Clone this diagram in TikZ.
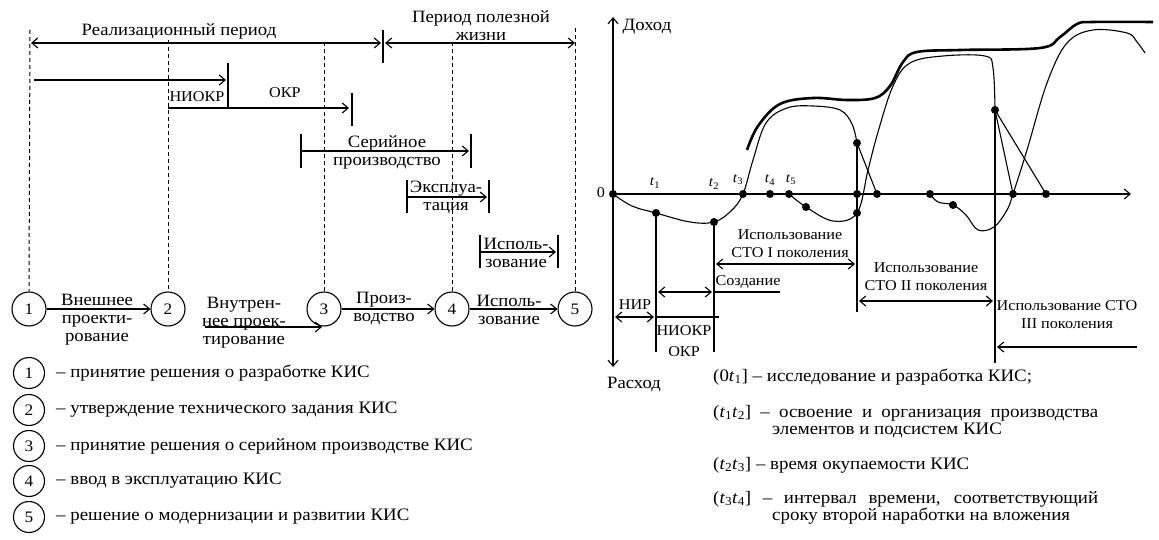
\documentclass[tikz,border=0pt]{standalone}
\usepackage{fontspec}
\setmainfont{Liberation Serif}[FakeStretch=1.08]
\usetikzlibrary{arrows.meta}
\begin{document}
\begin{tikzpicture}[x=1pt,y=-1pt,
  >={Straight Barb[length=6pt,width=10pt]},
  ln/.style={line width=1.1pt},
  arr/.style={ln,->}, darr/.style={ln,<->},
  dsh/.style={line width=1pt,dash pattern=on 4pt off 3pt},
  big/.style={font=\fontsize{17.3}{18}\selectfont, inner sep=0pt, align=center},
  sml/.style={font=\fontsize{15}{18}\selectfont, inner sep=0pt, align=center},
  leg/.style={font=\fontsize{17.5}{18}\selectfont, inner sep=0pt, anchor=west},
  tl/.style={font=\fontsize{14}{14}\selectfont, inner sep=0pt},
  num/.style={circle, draw, line width=1.1pt, minimum size=34pt, inner sep=0pt, font=\fontsize{16}{16}\selectfont},
  lnum/.style={circle, draw, line width=1.1pt, minimum size=31pt, inner sep=0pt, font=\fontsize{16}{16}\selectfont},
  dot/.style={circle, fill, inner sep=0pt, minimum size=8pt},
  crv/.style={line width=1.1pt},
  env/.style={line width=2.6pt}
]
\useasboundingbox (0,0) rectangle (1159,540);

% ---------------- LEFT PART ----------------
\node[num] (c1) at (29,309) {1};
\node[num] (c2) at (168,309) {2};
\node[num] (c3) at (324,309) {3};
\node[num] (c4) at (452,309) {4};
\node[num] (c5) at (575,309) {5};

% dashed verticals
\coordinate (v1) at (30,30);
\coordinate (v2) at (168,40);
\coordinate (v3) at (324,42);
\coordinate (v4) at (452,42);
\coordinate (v5) at (575,28);
\draw[dsh] (v1) -- (c1.north);
\draw[dsh] (v2) -- (c2.north);
\draw[dsh] (v3) -- (c3.north);
\draw[dsh] (v4) -- (c4.north);
\draw[dsh] (v5) -- (c5.north);

% top periods
\node[big] (tRP) at (179,31) {Реализационный период};
\node[big] (tPP) at (481,26) {Период полезной\\жизни};
\coordinate (rpL) at (31,43); \coordinate (rpR) at (381,43);
\draw[darr] (rpL) -- (rpR);
\coordinate (tk0a) at (383,30); \coordinate (tk0b) at (383,63);
\draw[ln] (tk0a) -- (tk0b);
\coordinate (ppL) at (385,43); \coordinate (ppR) at (575,43);
\draw[darr] (ppL) -- (ppR);

% NIOKR
\coordinate (n1a) at (34,80); \coordinate (n1b) at (226,80);
\draw[arr] (n1a) -- (n1b);
\coordinate (tk1a) at (228,63); \coordinate (tk1b) at (228,108);
\draw[ln] (tk1a) -- (tk1b);
\node[sml] (tNI) at (197,97) {НИОКР};
% OKR
\coordinate (o1a) at (168,108); \coordinate (o1b) at (349,108);
\draw[arr] (o1a) -- (o1b);
\coordinate (tk2a) at (352,93); \coordinate (tk2b) at (352,126);
\draw[ln] (tk2a) -- (tk2b);
\node[sml] (tOK) at (285,93) {ОКР};

% Serial production
\coordinate (tk3a) at (301,134); \coordinate (tk3b) at (301,168);
\coordinate (tk4a) at (471,134); \coordinate (tk4b) at (471,168);
\draw[ln] (tk3a) -- (tk3b);
\draw[ln] (tk4a) -- (tk4b);
\coordinate (s1a) at (301,151); \coordinate (s1b) at (469,151);
\draw[arr] (s1a) -- (s1b);
\node[big] (tSP) at (387,152) {Серийное\\производство};

% Exploitation
\coordinate (tk5a) at (407,180); \coordinate (tk5b) at (407,213);
\coordinate (tk6a) at (489,180); \coordinate (tk6b) at (489,213);
\draw[ln] (tk5a) -- (tk5b);
\draw[ln] (tk6a) -- (tk6b);
\coordinate (e1a) at (407,197); \coordinate (e1b) at (487,197);
\draw[arr] (e1a) -- (e1b);
\node[big] (tEX) at (446,197) {Эксплуа-\\тация};

% Usage
\coordinate (tk7a) at (480,235); \coordinate (tk7b) at (480,268);
\coordinate (tk8a) at (558,235); \coordinate (tk8b) at (558,268);
\draw[ln] (tk7a) -- (tk7b);
\draw[ln] (tk8a) -- (tk8b);
\coordinate (u1a) at (480,252); \coordinate (u1b) at (556,252);
\draw[arr] (u1a) -- (u1b);
\node[big] (tUS) at (516,253) {Исполь-\\зование};

% circle row arrows
\draw[arr] (c1) -- (c2);
\draw[arr] (c3) -- (c4);
\draw[arr] (c4) -- (c5);
\coordinate (s23) at (205,327); \coordinate (e23) at (322,327);
\draw[arr] (s23) -- (e23);
\node[big] (tVP) at (97,320) {Внешнее\\проекти-\\рование};
\node[big] (tVN) at (244,323) {Внутрен-\\нее проек-\\тирование};
\node[big] (tPR) at (384,309) {Произ-\\водство};
\node[big] (tIS) at (509,310) {Исполь-\\зование};

% legend
\node[lnum] (l1) at (29,373) {1};
\node[lnum] (l2) at (29,410) {2};
\node[lnum] (l3) at (29,446) {3};
\node[lnum] (l4) at (29,481) {4};
\node[lnum] (l5) at (29,517) {5};
\node[leg] (g1) at (56,373) {– принятие решения о разработке КИС};
\node[leg] (g2) at (56,410) {– утверждение технического задания КИС};
\node[leg] (g3) at (56,446) {– принятие решения о серийном производстве КИС};
\node[leg] (g4) at (56,481) {– ввод в эксплуатацию КИС};
\node[leg] (g5) at (56,517) {– решение о модернизации и развитии КИС};

% ---------------- RIGHT PART ----------------
\coordinate (ayT) at (613,17); \coordinate (ayB) at (613,367);
\draw[darr] (ayT) -- (ayB);
\coordinate (axL) at (613,194); \coordinate (axR) at (1131,194);
\draw[arr] (axL) -- (axR);
\node[big] (tDo) at (647,27) {Доход};
\node[big] (tRa) at (634,385) {Расход};
\node[sml] (t0) at (601,193) {0};

% curves
\draw[crv] plot[smooth, tension=0.6] coordinates {(613,194) (632,206) (656,213) (690,222) (714,222) (731,211) (743,194) (753,160) (766,123) (787,108) (813,106) (840,110) (852,124) (857,143)};
\draw[crv] plot[smooth, tension=0.6] coordinates {(789,194) (806,207) (833,221) (857,213) (868,170) (878,132) (893,86) (910,63) (943,56) (985,56) (993,68) (995,110)};
\draw[crv] plot[smooth, tension=0.6] coordinates {(930,194) (938,202) (953,205) (966,215) (978,230) (994,227) (1007,210) (1013,194) (1027,150) (1047,83) (1067,43) (1093,30) (1127,33) (1137,42) (1145,53)};
\draw[env] plot[smooth, tension=0.6] coordinates {(747,150) (758,126) (780,104) (813,98) (847,100) (875,98) (890,86) (903,62) (917,52) (960,50) (1040,48) (1060,37) (1077,24) (1093,22) (1153,22)};

% dots
\node[dot] (d0) at (613,194) {};
\node[dot] (dT1) at (656,213) {};
\node[dot] (dT2) at (714,222) {};
\node[dot] (dT3) at (743,194) {};
\node[dot] (dT4) at (770,194) {};
\node[dot] (dT5) at (789,194) {};
\node[dot] (dA) at (806,207) {};
\node[dot] (dB) at (857,143) {};
\node[dot] (dC) at (857,194) {};
\node[dot] (dD) at (857,213) {};
\node[dot] (dE) at (877,194) {};
\node[dot] (dF) at (930,194) {};
\node[dot] (dG) at (953,205) {};
\node[dot] (dH) at (995,110) {};
\node[dot] (dI) at (1013,194) {};
\node[dot] (dJ) at (1046,194) {};

\draw[ln] (dB.center) -- (dE.center);
\draw[ln] (dH.center) -- (dI.center);
\draw[ln] (dH.center) -- (dJ.center);
\coordinate (vB) at (857,312); \draw[ln] (dB.center) -- (vB);
\coordinate (vH) at (995,363); \draw[ln] (dH.center) -- (vH);
\coordinate (vT1) at (656,352); \draw[ln] (dT1.center) -- (vT1);
\coordinate (vT2) at (714,352); \draw[ln] (dT2.center) -- (vT2);

% t labels
\node[tl] (lt1) at (655,183) {\textit{t}\textsubscript{1}};
\node[tl] (lt2) at (714,184) {\textit{t}\textsubscript{2}};
\node[tl] (lt3) at (738,180) {\textit{t}\textsubscript{3}};
\node[tl] (lt4) at (770,180) {\textit{t}\textsubscript{4}};
\node[tl] (lt5) at (791,180) {\textit{t}\textsubscript{5}};

% right labels
\node[sml] (tU1) at (790,244) {Использование\\СТО I поколения};
\coordinate (a1L) at (716,264); \coordinate (a1R) at (855,264);
\draw[darr] (a1L) -- (a1R);
\node[sml] (tCr) at (748,282) {Создание};
\coordinate (crL) at (714,292); \coordinate (crR) at (780,292);
\draw[ln] (crL) -- (crR);
\coordinate (a2L) at (658,292); \coordinate (a2R) at (712,292);
\draw[darr] (a2L) -- (a2R);
\node[sml] (tNIR) at (635,305) {НИР};
\coordinate (a3L) at (615,317); \coordinate (a3R) at (654,317);
\draw[darr] (a3L) -- (a3R);
\coordinate (nrL) at (656,317); \coordinate (nrR) at (719,317);
\draw[ln] (nrL) -- (nrR);
\node[sml, font=\fontsize{15}{21}\selectfont] (tNO) at (684,341) {НИОКР\\ОКР};
\node[sml] (tU2) at (926,277) {Использование\\СТО II поколения};
\coordinate (a4L) at (859,301); \coordinate (a4R) at (993,301);
\draw[darr] (a4L) -- (a4R);
\node[sml] (tU3) at (1067,315) {Использование СТО\\III поколения};
\coordinate (a5R) at (1137,347); \coordinate (a5L) at (997,347);
\draw[arr] (a5R) -- (a5L);

% notes
\node[leg] (n1) at (713,377) {(0\textit{t}\textsubscript{1}] – исследование и разработка КИС;};
\node[leg] (n2) at (713,413) {\makebox[385pt][s]{(\textit{t}\textsubscript{1}\textit{t}\textsubscript{2}] – освоение и организация производства}};
\node[leg] (n2b) at (772,430) {элементов и подсистем КИС};
\node[leg] (n3) at (713,465) {(\textit{t}\textsubscript{2}\textit{t}\textsubscript{3}] – время окупаемости КИС};
\node[leg] (n4) at (713,499) {\makebox[385pt][s]{(\textit{t}\textsubscript{3}\textit{t}\textsubscript{4}] – интервал времени, соответствующий}};
\node[leg] (n4b) at (772,516) {сроку второй наработки на вложения};
\end{tikzpicture}
\end{document}
